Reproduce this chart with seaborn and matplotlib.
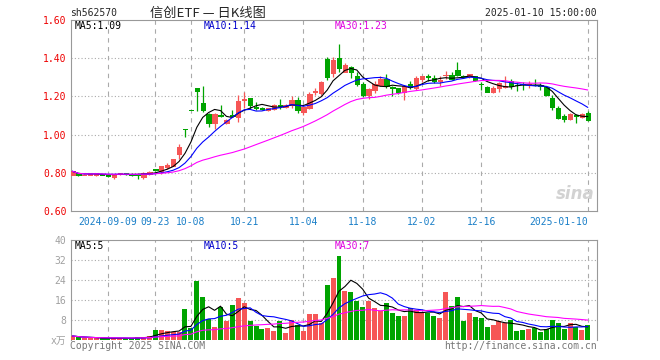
import matplotlib
matplotlib.use("Agg")
import matplotlib.pyplot as plt
import numpy as np
import pandas as pd
import seaborn as sns

# ── style ──
sns.set_style("white")
plt.rcParams["font.family"] = ["DejaVu Sans Mono", "Noto Sans CJK SC"]

UP, DOWN = "#f65656", "#00a400"
GRID = "#aaaaaa"
SPINE = "#999999"

# ── data ──
HOLIDAYS = ["2024-09-16", "2024-09-17", "2024-10-01", "2024-10-02", "2024-10-03",
            "2024-10-04", "2024-10-07", "2025-01-01"]
TICK_DATES = ["2024-09-09", "2024-09-23", "2024-10-08", "2024-10-21", "2024-11-04",
              "2024-11-18", "2024-12-02", "2024-12-16", "2025-01-10"]
TICK_LABELS = ["2024-09-09", "09-23", "10-08", "10-21", "11-04",
               "11-18", "12-02", "12-16", "2025-01-10"]

OPEN = [0.791, 0.800, 0.789, 0.790, 0.790, 0.793, 0.786, 0.776, 0.793, 0.797,
        0.792, 0.792, 0.780, 0.792, 0.818, 0.812, 0.830, 0.838, 0.897, 1.030,
        1.130, 1.244, 1.165, 1.109, 1.061, 1.102, 1.060, 1.103, 1.095, 1.184,
        1.190, 1.145, 1.139, 1.128, 1.137, 1.153, 1.144, 1.154, 1.181, 1.119,
        1.142, 1.224, 1.218, 1.396, 1.321, 1.400, 1.330, 1.353, 1.305, 1.268,
        1.207, 1.235, 1.261, 1.291, 1.249, 1.242, 1.221, 1.265, 1.242, 1.291,
        1.307, 1.295, 1.282, 1.310, 1.312, 1.339, 1.309, 1.307, 1.305, 1.267,
        1.251, 1.226, 1.242, 1.251, 1.282, 1.261, 1.266, 1.263, 1.261, 1.260,
        1.251, 1.191, 1.142, 1.098, 1.081, 1.104, 1.090, 1.112]
HIGH = [0.810, 0.801, 0.792, 0.794, 0.799, 0.795, 0.790, 0.795, 0.800, 0.800,
        0.800, 0.795, 0.802, 0.810, 0.822, 0.838, 0.850, 0.872, 0.950, 1.030,
        1.130, 1.246, 1.254, 1.115, 1.112, 1.154, 1.080, 1.128, 1.207, 1.221,
        1.192, 1.172, 1.145, 1.142, 1.160, 1.186, 1.160, 1.200, 1.198, 1.148,
        1.221, 1.247, 1.282, 1.405, 1.409, 1.475, 1.374, 1.361, 1.326, 1.274,
        1.247, 1.282, 1.309, 1.318, 1.256, 1.247, 1.258, 1.282, 1.309, 1.307,
        1.318, 1.312, 1.305, 1.332, 1.326, 1.382, 1.312, 1.320, 1.309, 1.277,
        1.254, 1.256, 1.277, 1.309, 1.291, 1.277, 1.277, 1.279, 1.291, 1.270,
        1.256, 1.207, 1.151, 1.107, 1.114, 1.107, 1.116, 1.125]
LOW = [0.788, 0.785, 0.786, 0.787, 0.785, 0.788, 0.776, 0.770, 0.790, 0.790,
       0.785, 0.768, 0.770, 0.790, 0.810, 0.795, 0.820, 0.835, 0.870, 0.990,
       1.130, 1.125, 1.119, 1.042, 1.028, 1.095, 1.055, 1.090, 1.067, 1.142,
       1.133, 1.130, 1.130, 1.125, 1.130, 1.133, 1.140, 1.142, 1.116, 1.102,
       1.133, 1.207, 1.207, 1.286, 1.300, 1.326, 1.326, 1.295, 1.256, 1.195,
       1.186, 1.218, 1.253, 1.242, 1.204, 1.212, 1.182, 1.240, 1.235, 1.274,
       1.282, 1.270, 1.256, 1.291, 1.288, 1.309, 1.295, 1.298, 1.279, 1.235,
       1.221, 1.218, 1.225, 1.242, 1.239, 1.230, 1.235, 1.242, 1.253, 1.235,
       1.204, 1.130, 1.081, 1.067, 1.076, 1.060, 1.086, 1.072]
CLOSE = [0.808, 0.786, 0.790, 0.792, 0.797, 0.790, 0.784, 0.790, 0.798, 0.793,
         0.790, 0.789, 0.800, 0.803, 0.816, 0.835, 0.840, 0.870, 0.935, 1.029,
         1.130, 1.228, 1.130, 1.063, 1.109, 1.100, 1.077, 1.100, 1.175, 1.188,
         1.154, 1.140, 1.136, 1.140, 1.154, 1.149, 1.156, 1.181, 1.130, 1.146,
         1.212, 1.228, 1.277, 1.304, 1.391, 1.347, 1.365, 1.326, 1.265, 1.207,
         1.239, 1.265, 1.291, 1.256, 1.245, 1.221, 1.256, 1.251, 1.295, 1.305,
         1.303, 1.282, 1.288, 1.314, 1.291, 1.314, 1.300, 1.318, 1.284, 1.263,
         1.226, 1.244, 1.270, 1.255, 1.253, 1.258, 1.263, 1.267, 1.258, 1.253,
         1.209, 1.146, 1.086, 1.080, 1.110, 1.098, 1.108, 1.078]
VOLUME = [1.6, 1.1, 0.8, 0.7, 0.6, 0.7, 0.6, 0.8, 0.6, 0.6,
          0.8, 1.3, 1.3, 1.7, 4.0, 4.0, 3.6, 3.3, 3.0, 12.4,
          4.9, 23.6, 17.2, 8.3, 5.3, 13.2, 7.7, 14.0, 16.9, 14.7,
          7.7, 5.7, 4.4, 4.8, 3.6, 7.7, 2.9, 8.0, 5.9, 3.6,
          10.4, 10.4, 6.7, 22.0, 24.9, 33.6, 19.7, 19.3, 15.7, 13.3,
          15.7, 12.9, 11.6, 14.9, 10.9, 9.7, 9.7, 12.7, 12.0, 10.7,
          10.7, 9.7, 8.9, 19.3, 13.6, 17.3, 7.7, 10.9, 9.3, 8.9,
          5.3, 6.0, 7.6, 6.7, 8.0, 3.6, 4.0, 4.4, 4.9, 3.2,
          4.4, 8.0, 6.9, 4.5, 6.8, 5.1, 4.0, 6.0]

dates = pd.bdate_range("2024-08-30", "2025-01-10")
dates = dates[~dates.isin(pd.to_datetime(HOLIDAYS))]

df = pd.DataFrame({"date": dates, "open": OPEN, "high": HIGH, "low": LOW,
                   "close": CLOSE, "vol": VOLUME})
df["x"] = np.arange(len(df))
df["color"] = np.where(df["close"] > df["open"], UP, DOWN)
for n in (5, 10, 30):
    df[f"ma{n}"] = df["close"].rolling(n, min_periods=1).mean()
    df[f"vma{n}"] = df["vol"].rolling(n, min_periods=1).mean()

tick_pos = df.loc[df["date"].isin(pd.to_datetime(TICK_DATES)), "x"].tolist()

# ── figure ──
fig = plt.figure(figsize=(6.6, 3.6), dpi=100)
ax1 = fig.add_axes([0.107, 0.414, 0.798, 0.530])
ax2 = fig.add_axes([0.107, 0.0556, 0.798, 0.2778])
XLIM = (-0.3, 88.6)

# price panel
ax1.vlines(df["x"], df["low"], df["high"], colors=df["color"], lw=0.9, zorder=3)
body_lo = df[["open", "close"]].min(axis=1)
body_h = (df["close"] - df["open"]).abs()
ax1.bar(df["x"], body_h, bottom=body_lo, width=0.74, color=df["color"],
        edgecolor=df["color"], linewidth=0.5, zorder=4, antialiased=False)
for col, c in (("ma5", "black"), ("ma10", "#0000ff"), ("ma30", "#ff00ff")):
    sns.lineplot(data=df, x="x", y=col, color=c, lw=0.8, ax=ax1, zorder=5, legend=False)

ax1.set_ylim(0.6, 1.6)
ax1.set_yticks(np.arange(0.6, 1.61, 0.2))
ax1.set_yticklabels([f"{v:.2f}" for v in np.arange(0.6, 1.61, 0.2)], color="#ee0000", fontsize=7)
for v in (0.8, 1.0, 1.2, 1.4):
    ax1.axhline(v, color=GRID, lw=0.8, ls=(0, (1, 2)), zorder=1)

ax1.set_xticks(tick_pos)
ax1.set_xticklabels(TICK_LABELS, color="#1a7fc8", fontsize=7)
ax1.get_xticklabels()[-1].set_ha("right")

ax1.text(0.008, 0.969, f"MA5:{df['ma5'].iloc[-1]:.2f}", transform=ax1.transAxes,
         va="center", fontsize=7, color="black")
ax1.text(0.253, 0.969, f"MA10:{df['ma10'].iloc[-1]:.2f}", transform=ax1.transAxes,
         va="center", fontsize=7, color="#0000cc")
ax1.text(0.502, 0.969, f"MA30:{df['ma30'].iloc[-1]:.2f}", transform=ax1.transAxes,
         va="center", fontsize=7, color="#e000e0")
ax1.text(0.995, 0.04, "sina", transform=ax1.transAxes, ha="right", va="bottom",
         fontsize=12, fontweight="bold", fontstyle="italic", color="#d2d2d2",
         family="DejaVu Sans")

# volume panel
ax2.bar(df["x"], df["vol"], width=0.84, color=df["color"], linewidth=0,
        zorder=3, antialiased=False)
for col, c in (("vma5", "black"), ("vma10", "#0000ff"), ("vma30", "#ff00ff")):
    sns.lineplot(data=df, x="x", y=col, color=c, lw=0.8, ax=ax2, zorder=5, legend=False)
ax2.set_ylim(0, 40)
ax2.set_yticks([0, 8, 16, 24, 32, 40])
ax2.set_yticklabels(["x万", "8", "16", "24", "32", "40"], color="#a0a0a0", fontsize=7)
for v in (8, 16, 24, 32):
    ax2.axhline(v, color=GRID, lw=0.8, ls=(0, (1, 2)), zorder=1)
ax2.set_xticks([])
ax2.spines["bottom"].set_visible(False)

ax2.text(0.008, 0.94, f"MA5:{int(df['vma5'].iloc[-1])}", transform=ax2.transAxes,
         va="center", fontsize=7, color="black")
ax2.text(0.253, 0.94, f"MA10:{int(df['vma10'].iloc[-1])}", transform=ax2.transAxes,
         va="center", fontsize=7, color="#0000cc")
ax2.text(0.502, 0.94, f"MA30:{int(df['vma30'].iloc[-1])}", transform=ax2.transAxes,
         va="center", fontsize=7, color="#e000e0")

for ax in (ax1, ax2):
    ax.set_xlim(*XLIM)
    ax.set_xlabel("")
    ax.set_ylabel("")
    for p in tick_pos:
        ax.axvline(p, color=GRID, lw=0.8, ls=(0, (4, 4)), zorder=1)
    for s in ax.spines.values():
        s.set_color(SPINE)
        s.set_linewidth(0.8)
    ax.tick_params(length=0, pad=3)
ax1.tick_params(axis="x", pad=4)

# header / footer
fig.text(70 / 660, 1 - 13 / 360, "sh562570", fontsize=7, va="center")
fig.text(150 / 660, 1 - 13 / 360, "信创ETF — 日K线图", fontsize=9.5, va="center",
         family=["Noto Sans CJK SC", "DejaVu Sans"])
fig.text(597 / 660, 1 - 13 / 360, "2025-01-10 15:00:00", fontsize=7, va="center", ha="right")
fig.text(70 / 660, 1 - 346 / 360, "Copyright 2025 SINA.COM", fontsize=7, va="center", color="#777777")
fig.text(597 / 660, 1 - 346 / 360, "http://finance.sina.com.cn", fontsize=7, va="center",
         ha="right", color="#777777")

fig.savefig("out.png", dpi=100)
